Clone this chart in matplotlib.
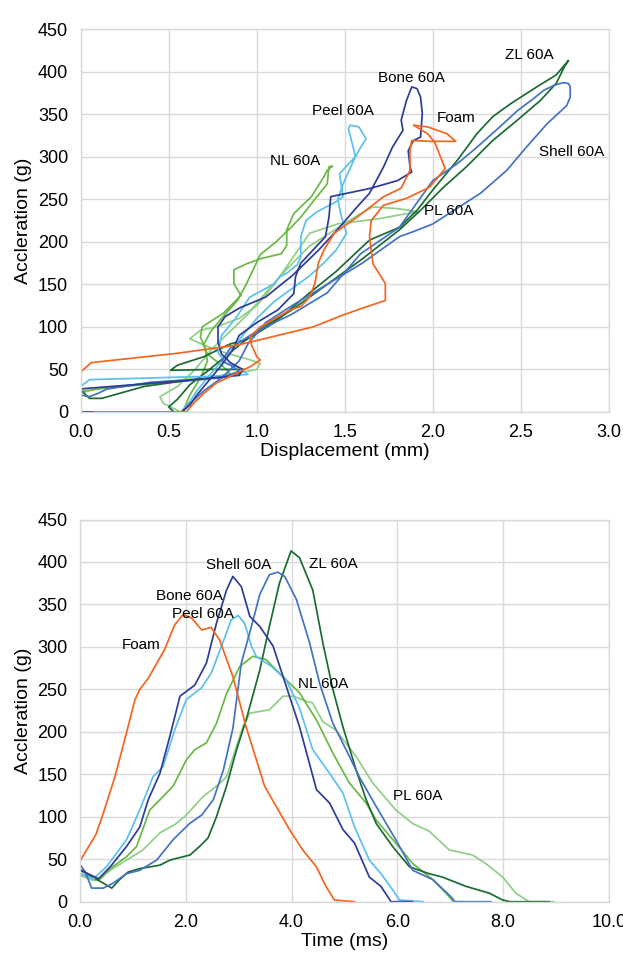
import matplotlib
matplotlib.use("Agg")
import matplotlib.pyplot as plt
from matplotlib.ticker import MultipleLocator, FormatStrFormatter

plt.rcParams['font.family'] = ['Liberation Sans', 'DejaVu Sans']

# ---------------- colours ----------------
colors = {
    "Foam": "#F4651F",
    "Bone 60A": "#2E3C98",
    "Shell 60A": "#4472C4",
    "Peel 60A": "#5BC0EB",
    "NL 60A": "#6AB845",
    "PL 60A": "#8FCF86",
    "ZL 60A": "#1B6B33",
}

# ---------------- displacement (top) data ----------------
foam_x = [0.00,0.06,0.55,0.90,1.32,1.49,1.60,1.73,1.73,1.66,1.64,1.65,1.72,1.85,1.98,2.07,2.01,1.97,1.89,1.97,2.08,2.13,1.98,1.88,1.87,1.87,1.82,1.72,1.57,1.44,1.38,1.35,1.33,1.30,1.25,1.19,1.02,0.96,0.97,1.00,1.02,0.96,0.77,0.70,0.64,0.60,0.08]
foam_y = [47,58,69,79,100,114,122,131,151,174,206,225,243,251,264,286,317,327,337,335,327,318,318,319,307,284,263,253,229,210,190,175,151,135,124,120,100,88,79,65,61,53,34,22,10,0,0]

bone_x = [0.00,0.00,0.05,0.30,0.60,0.90,0.92,0.85,0.80,0.78,0.78,0.82,0.90,1.05,1.20,1.35,1.47,1.57,1.64,1.72,1.77,1.83,1.82,1.85,1.88,1.91,1.93,1.94,1.93,1.89,1.86,1.87,1.88,1.80,1.65,1.42,1.41,1.39,1.30,1.25,1.22,1.21,1.12,1.00,0.90,0.86,0.80,0.72,0.66,0.62,0.57,0.00]
bone_y = [38,27,28,32,37,43,50,58,68,82,100,112,122,135,160,190,217,241,257,288,311,331,343,366,382,380,370,351,323,319,307,288,282,272,263,253,229,206,186,175,159,139,120,105,90,72,55,35,20,8,0,0]

shell_x = [0.00,0.00,0.05,0.10,0.15,0.40,0.80,0.90,0.85,0.80,0.85,1.00,1.20,1.40,1.59,1.81,2.00,2.14,2.25,2.38,2.48,2.57,2.63,2.69,2.74,2.77,2.78,2.78,2.76,2.65,2.53,2.42,2.27,2.12,2.00,1.89,1.81,1.60,1.40,1.20,1.05,0.95,0.90,0.80,0.70,0.62,0.58,0.02]
shell_y = [44,20,18,22,27,35,40,48,55,60,75,95,115,140,186,217,272,292,311,335,354,368,378,384,387,386,382,370,360,339,311,284,257,237,221,212,206,175,150,125,105,80,60,40,25,10,0,0]

peel_x = [0.00,0.00,0.05,0.40,0.75,0.95,0.90,0.82,0.78,0.80,0.88,0.96,1.05,1.10,1.13,1.17,1.23,1.25,1.25,1.28,1.34,1.45,1.49,1.47,1.56,1.55,1.52,1.53,1.58,1.62,1.59,1.56,1.49,1.46,1.48,1.51,1.45,1.38,1.30,1.20,1.10,1.00,0.92,0.85,0.78,0.72,0.66,0.62,0.58]
peel_y = [33,30,38,40,42,44,52,58,70,90,110,135,145,151,159,163,173,182,206,225,235,247,253,280,300,309,333,337,335,321,311,300,268,250,230,210,190,175,160,145,130,110,90,70,55,40,25,12,2]

nl_x = [0.00,0.00,0.10,0.40,0.70,0.85,0.80,0.72,0.68,0.69,0.75,0.81,0.91,0.87,0.87,0.94,1.02,1.14,1.17,1.17,1.21,1.27,1.31,1.38,1.40,1.43,1.41,1.40,1.33,1.25,1.20,1.11,1.02,0.94,0.89,0.80,0.74,0.70,0.72,0.68,0.62,0.58]
nl_y = [33,24,27,33,38,45,55,68,88,100,108,116,137,151,167,174,180,186,196,214,233,245,253,276,284,289,288,268,250,229,218,200,185,150,131,110,95,80,60,40,20,0]

pl_x = [0.00,0.00,0.10,0.50,0.85,1.00,1.02,0.95,0.83,0.72,0.62,0.68,0.77,0.90,1.00,1.10,1.20,1.30,1.46,1.69,1.85,1.92,1.80,1.66,1.58,1.45,1.30,1.18,1.05,0.95,0.85,0.75,0.65,0.55,0.45,0.47,0.52,0.57]
pl_y = [31,22,28,36,44,50,57,62,69,77,86,96,100,110,125,150,180,210,221,227,233,235,239,241,232,215,195,170,140,115,95,75,50,30,18,10,5,0]

zl_x = [0.00,0.00,0.05,0.12,0.36,0.60,0.81,0.90,0.93,0.75,0.51,0.55,0.70,0.85,0.94,1.10,1.30,1.45,1.64,1.81,1.91,2.00,2.14,2.25,2.34,2.44,2.59,2.70,2.77,2.75,2.70,2.61,2.48,2.34,2.19,2.06,1.93,1.81,1.60,1.40,1.20,1.00,0.85,0.72,0.62,0.55,0.50,0.53]
zl_y = [37,26,16,16,30,37,41,45,50,50,49,55,65,80,85,105,140,165,202,217,237,261,296,327,347,362,382,396,413,407,386,366,343,319,288,264,237,214,180,150,120,95,70,48,32,15,6,0]

# ---------------- time (bottom) data ----------------
foam_t = [0,0.30,0.44,0.66,0.88,1.04,1.13,1.29,1.60,1.79,1.95,2.11,2.30,2.48,2.64,2.89,3.14,3.49,3.96,4.21,4.47,4.65,4.81,5.19]
foam_a = [48,79,104,147,199,238,250,263,297,326,338,334,320,323,308,265,206,136,85,61,41,18,2,0]

bone_t = [0,0.15,0.35,0.57,0.88,1.13,1.29,1.51,1.70,1.89,2.17,2.39,2.58,2.77,2.89,3.05,3.21,3.40,3.65,3.96,4.15,4.47,4.72,4.97,5.19,5.47,5.69,5.88,6.28]
bone_a = [38,33,27,41,65,88,120,151,195,242,255,281,328,367,383,371,336,324,301,242,206,132,116,85,69,29,18,0,0]

peel_t = [0,0.25,0.50,0.88,1.13,1.38,1.57,1.79,2.01,2.30,2.48,2.70,2.86,2.99,3.11,3.24,3.33,3.62,3.90,4.15,4.40,4.72,4.97,5.19,5.47,5.69,5.91,6.04,6.49]
peel_a = [33,27,41,73,108,147,159,202,238,252,269,305,332,337,328,301,289,277,261,228,179,151,128,88,49,33,14,2,0]

shell_t = [0,0.10,0.22,0.44,0.63,0.88,1.13,1.45,1.76,2.07,2.30,2.52,2.71,2.89,3.05,3.24,3.40,3.58,3.74,3.87,4.09,4.34,4.53,4.78,5.03,5.28,5.60,5.97,6.29,6.67,7.01,7.09,7.77]
shell_a = [44,35,16,16,22,33,37,49,73,92,102,120,155,204,281,324,362,385,388,383,356,305,257,210,179,147,112,73,37,26,6,0,0]

zl_t = [0,0.25,0.38,0.60,0.75,0.91,1.13,1.51,1.70,2.08,2.26,2.42,2.58,2.77,2.96,3.14,3.40,3.58,3.77,3.99,4.15,4.40,4.59,4.78,4.97,5.22,5.41,5.60,5.91,6.23,6.60,6.85,7.30,7.74,7.99,8.13,8.87]
zl_a = [37,29,24,16,26,35,39,43,49,55,65,75,100,136,179,214,273,324,375,413,405,367,305,250,206,155,120,92,65,41,33,29,18,10,2,0,0]

nl_t = [0,0.25,0.35,0.57,0.88,1.07,1.32,1.51,1.76,2.01,2.17,2.39,2.58,2.77,3.02,3.27,3.52,3.77,4.15,4.47,4.78,5.09,5.41,5.60,5.97,6.29,6.67,6.92,7.06,7.20]
nl_a = [33,27,25,39,53,65,108,120,136,167,179,187,210,245,277,289,285,269,246,214,175,140,116,96,69,45,26,10,0,0]

pl_t = [0,0.25,0.38,0.57,0.88,1.19,1.51,1.82,2.01,2.33,2.58,2.77,2.96,3.08,3.21,3.58,3.84,4.03,4.28,4.40,4.59,4.84,5.22,5.53,5.97,6.29,6.60,6.98,7.42,7.67,7.99,8.24,8.49,8.96]
pl_a = [31,25,27,37,49,61,81,92,102,124,136,147,183,206,222,226,242,242,236,234,212,202,171,140,108,92,83,61,55,45,29,10,0,0]

top_series = [
    ("PL 60A", pl_x, pl_y), ("NL 60A", nl_x, nl_y), ("ZL 60A", zl_x, zl_y),
    ("Peel 60A", peel_x, peel_y), ("Shell 60A", shell_x, shell_y),
    ("Bone 60A", bone_x, bone_y), ("Foam", foam_x, foam_y),
]
bot_series = [
    ("PL 60A", pl_t, pl_a), ("NL 60A", nl_t, nl_a), ("ZL 60A", zl_t, zl_a),
    ("Peel 60A", peel_t, peel_a), ("Shell 60A", shell_t, shell_a),
    ("Bone 60A", bone_t, bone_a), ("Foam", foam_t, foam_a),
]

top_labels = [("ZL 60A", 2.55, 419), ("Bone 60A", 1.88, 393), ("Peel 60A", 1.49, 354),
              ("Foam", 2.13, 345), ("Shell 60A", 2.79, 306), ("NL 60A", 1.22, 295),
              ("PL 60A", 2.09, 236)]
bot_labels = [("Shell 60A", 3.0, 397), ("ZL 60A", 4.79, 398), ("Bone 60A", 2.06, 360),
              ("Peel 60A", 2.32, 339), ("Foam", 1.15, 302), ("NL 60A", 4.60, 256),
              ("PL 60A", 6.38, 125)]

fig = plt.figure(figsize=(6.23, 9.61), dpi=100)
ax1 = fig.add_axes([0.1295, 0.5713, 0.848, 0.3985])
ax2 = fig.add_axes([0.1284, 0.0617, 0.8491, 0.3977])

grid_c = "#D9D9D9"

def style(ax, xmax, xstep, xlabel):
    ax.set_xlim(0, xmax)
    ax.set_ylim(0, 450)
    ax.xaxis.set_major_locator(MultipleLocator(xstep))
    ax.yaxis.set_major_locator(MultipleLocator(50))
    ax.xaxis.set_major_formatter(FormatStrFormatter('%.1f'))
    ax.grid(True, color=grid_c, linewidth=1.0)
    ax.set_axisbelow(True)
    for s in ax.spines.values():
        s.set_color(grid_c)
        s.set_linewidth(1.0)
    ax.tick_params(axis='x', length=0, labelsize=13, pad=9, colors="#000000")
    ax.tick_params(axis='y', length=0, labelsize=13, pad=9, colors="#000000")
    ax.set_xlabel(xlabel, fontsize=14, labelpad=1)
    ax.set_ylabel("Accleration (g)", fontsize=14, labelpad=4)

for name, x, y in top_series:
    ax1.plot(x, y, color=colors[name], lw=1.25)
for name, x, y in bot_series:
    ax2.plot(x, y, color=colors[name], lw=1.25)

for name, x, y in top_labels:
    ax1.text(x, y, name, fontsize=11, ha='center', va='center')
for name, x, y in bot_labels:
    ax2.text(x, y, name, fontsize=11, ha='center', va='center')

style(ax1, 3.0, 0.5, "Displacement (mm)")
style(ax2, 10.0, 2.0, "Time (ms)")

fig.savefig("out.png", dpi=100, facecolor="white")
